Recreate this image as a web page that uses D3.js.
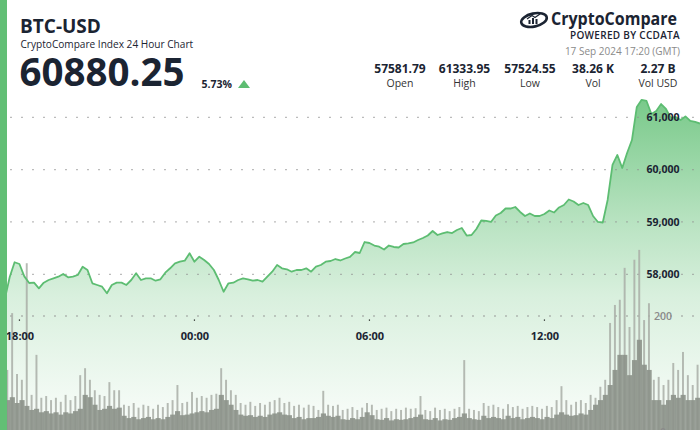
<!DOCTYPE html>
<html><head><meta charset="utf-8">
<script src="https://cdn.jsdelivr.net/npm/d3@7"></script>
<style>
html,body{margin:0;padding:0;background:#fff;}
svg{display:block;font-family:"Open Sans","Noto Sans",sans-serif;}
</style></head>
<body><svg id="c" width="700" height="430"></svg>
<script>
// ---- data ----
const startTime = "2024-09-16T17:20:00Z";
const stepMinutes = 10;
const prices = [57582,57530,57948,58230,58197,57960,57834,57840,57732,57840,
57891,57924,57954,58006,57943,57954,57987,58145,58082,57828,
57796,57763,57637,57796,57840,57840,57796,57891,58019,57891,
57924,57924,57878,57904,58031,58115,58210,58241,58260,58401,
58241,58336,58273,58197,58082,57891,57667,57828,57840,57891,
57924,57904,57878,57891,57859,57954,58050,58178,58115,58096,
58050,58082,58082,58115,58050,58145,58178,58241,58254,58292,
58264,58302,58331,58426,58407,58617,58598,58550,58527,58474,
58550,58522,58512,58579,58589,58608,58655,58694,58741,58827,
58751,58780,58808,58789,58847,58885,58741,58751,58866,59028,
59019,59000,59124,59171,59257,59257,59286,59191,59114,59162,
59114,59114,59152,59219,59181,59277,59324,59429,59391,59324,
59363,59324,59114,59000,58990,59420,60089,60280,60031,60318,
60566,61197,61334,61312,61063,61120,61254,61159,60987,61006,
60949,61016,60930,60911,60880.25];
const volDark = [55,55,60,50,55,45,38,40,34,36,32,34,30,34,32,36,40,64,60,47,
38,40,45,40,42,28,24,26,22,24,26,22,24,22,26,30,36,29,30,32,
34,36,34,38,40,64,55,47,38,30,28,29,26,28,26,30,32,34,30,29,
24,26,22,24,24,26,32,28,26,28,22,21,24,22,26,34,29,22,21,24,
20,22,21,22,24,26,30,22,21,24,20,22,21,24,26,32,24,22,21,28,
24,26,24,22,28,24,26,22,24,26,24,22,26,24,30,34,30,28,29,32,
30,38,47,55,64,81,107,133,133,98,124,159,116,107,55,55,47,55,64,59,
64,55,55,59];
const volLight = [90,107,205,100,90,291,64,133,59,62,55,59,52,64,55,62,98,110,90,72,
64,62,86,72,72,47,45,50,42,47,45,40,47,43,50,55,81,50,52,69,
59,62,59,64,66,110,90,72,64,50,47,52,45,50,47,52,55,59,50,52,
45,47,42,47,45,38,71,47,45,47,38,40,43,38,42,50,47,38,40,42,
36,40,38,42,40,41,62,38,36,42,38,40,36,40,43,124,40,38,36,50,
45,47,43,40,48,43,45,40,43,45,43,40,45,43,55,79,55,47,52,55,
50,64,59,78,90,188,219,228,283,181,297,314,193,222,90,95,81,90,119,107,
138,98,81,116];
const priceTicks = [58000,59000,60000,61000];
const volTicks = [0,200];
const timeTicks = ["2024-09-16T18:00:00Z","2024-09-17T00:00:00Z","2024-09-17T06:00:00Z","2024-09-17T12:00:00Z"];
const statValues = ["57581.79","61333.95","57524.55","38.26 K","2.27 B"];
const statLabels = ["Open","High","Low","Vol","Vol USD"];

// ---- setup ----
const W = 700, H = 430;
const svg = d3.select("#c");
const t0 = new Date(startTime);
const t1 = d3.utcMinute.offset(t0, 24*60);
const x = d3.scaleUtc().domain([t0, t1]).range([0, W]);
const y = d3.scaleLinear().domain([58000, 61000]).range([274.3, 117.3]);
const yv = d3.scaleLinear().domain([0, 200]).range([432, 316]);
const times = prices.map((p,i)=>d3.utcMinute.offset(t0, i*stepMinutes));
const priceData = prices.map((p,i)=>({t:times[i], p}));
const volData = volDark.map((v,i)=>({t:d3.utcMinute.offset(t0, i*stepMinutes), d:v, l:volLight[i]}));

const defs = svg.append("defs");
const grad = defs.append("linearGradient").attr("id","g").attr("gradientUnits","userSpaceOnUse")
  .attr("x1",0).attr("x2",0).attr("y1",95).attr("y2",430);
[[0,0.85],[0.4,0.42],[0.6,0.24],[1,0.03]].forEach(([o,a])=>
  grad.append("stop").attr("offset",o).attr("stop-color","#5fbf73").attr("stop-opacity",a));

// area
const area = d3.area().x(d=>x(d.t)).y0(H).y1(d=>y(d.p)).curve(d3.curveLinear);
svg.append("path").datum(priceData).attr("d",area).attr("fill","url(#g)");

// gridlines
const gridG = svg.append("g");
gridG.selectAll("line.p").data(priceTicks).join("line")
  .attr("x1",-0.6).attr("x2",W).attr("y1",d=>y(d)).attr("y2",d=>y(d))
  .attr("stroke","#8f8f8f").attr("stroke-width",1.3).attr("stroke-dasharray","1.2 9.8");
gridG.selectAll("line.v").data(volTicks).join("line")
  .attr("x1",-0.6).attr("x2",W).attr("y1",d=>yv(d)).attr("y2",d=>yv(d))
  .attr("stroke","#8f8f8f").attr("stroke-width",1.3).attr("stroke-dasharray","1.2 9.8");

// volume bars
const bw = x(d3.utcMinute.offset(t0, stepMinutes)) - x(t0);
svg.append("g").selectAll("rect").data(volData).join("rect")
  .attr("x",d=>x(d.t)+bw*0.3).attr("width",bw*0.4)
  .attr("y",d=>yv(d.l)).attr("height",d=>yv(0)-yv(d.l))
  .attr("fill","#a9aea7").attr("opacity",0.85);
svg.append("g").selectAll("rect").data(volData).join("rect")
  .attr("x",d=>x(d.t)).attr("width",bw+0.3)
  .attr("y",d=>yv(d.d)).attr("height",d=>yv(0)-yv(d.d))
  .attr("fill","#8c9289").attr("opacity",0.9);

// price line
const line = d3.line().x(d=>x(d.t)).y(d=>y(d.p));
svg.append("path").datum(priceData).attr("d",line).attr("fill","none")
  .attr("stroke","#5dbd72").attr("stroke-width",1.8).attr("stroke-linejoin","round");

// price labels
svg.append("g").selectAll("text").data(priceTicks).join("text")
  .attr("x",663).attr("y",d=>y(d)).attr("dy","0.36em").attr("text-anchor","middle")
  .attr("font-size",10.5).attr("font-weight",700).attr("fill","#1b2432")
  .text(d=>d3.format(",")(d));
svg.append("g").selectAll("text").data(volTicks).join("text")
  .attr("x",663).attr("y",d=>yv(d)).attr("dy","0.36em").attr("text-anchor","middle")
  .attr("font-size",10.5).attr("font-weight",600).attr("fill","#8a8a8a")
  .text(d=>d3.format(",")(d));

// time axis
const xAxis = d3.axisBottom(x).tickValues(timeTicks.map(s=>new Date(s)))
  .tickFormat(d3.utcFormat("%H:%M")).tickSize(0).tickPadding(0);
const ax = svg.append("g").attr("transform","translate(0,333)").call(xAxis);
ax.select(".domain").remove();
ax.selectAll("text").attr("font-family","Open Sans").attr("font-size",11)
  .attr("font-weight",700).attr("fill","#1b2432").attr("dy","0.71em").attr("y",-0.5);
svg.append("g").selectAll("rect").data(timeTicks).join("rect")
  .attr("x",d=>x(new Date(d))-0.6).attr("y",319.5).attr("width",1.2).attr("height",1.2).attr("fill","#111");

// left bar
svg.append("rect").attr("x",0).attr("y",0).attr("width",7).attr("height",H).attr("fill","#62bf75");

// header
const dark = "#1b2432";
svg.append("text").attr("x",20).attr("y",33).attr("font-size",19).attr("font-weight",700).attr("fill",dark).text("BTC-USD");
svg.append("text").attr("x",20.5).attr("y",47.5).attr("font-size",10.1).attr("fill",dark).text("CryptoCompare Index 24 Hour Chart");
svg.append("text").attr("x",19.5).attr("y",86).attr("font-size",38.5).attr("font-weight",700).attr("fill",dark).text("60880.25");
svg.append("text").attr("x",201.5).attr("y",88).attr("font-size",10.5).attr("font-weight",700).attr("fill",dark).text("5.73%");
svg.append("path").attr("d","M238,88 L244,80 L250,88 Z").attr("fill","#5dbd72");

// stats
const statX = [400,464.5,530,593,658];
svg.append("g").selectAll("text").data(statValues).join("text")
  .attr("x",(d,i)=>statX[i]).attr("y",72.5).attr("text-anchor","middle")
  .attr("font-size",12).attr("font-weight",700).attr("fill",dark).text(d=>d);
svg.append("g").selectAll("text").data(statLabels).join("text")
  .attr("x",(d,i)=>statX[i]).attr("y",86.5).attr("text-anchor","middle")
  .attr("font-size",10.5).attr("fill","#333").text(d=>d);

// logo
const lg = svg.append("g");
lg.append("ellipse").attr("cx",534).attr("cy",20).attr("rx",13).attr("ry",6.5)
  .attr("transform","rotate(-12 534 20)").attr("fill","none").attr("stroke",dark).attr("stroke-width",2.6);
lg.append("rect").attr("x",528.5).attr("y",20).attr("width",2).attr("height",4).attr("fill",dark);
lg.append("rect").attr("x",532).attr("y",18).attr("width",2).attr("height",6).attr("fill",dark);
lg.append("rect").attr("x",535.5).attr("y",19).attr("width",2).attr("height",5).attr("fill",dark);
lg.append("path").attr("d","M527,19 L532,15.5 L535,17.5 L540,14").attr("fill","none").attr("stroke",dark).attr("stroke-width",1.3);
svg.append("text").attr("x",677).attr("y",25).attr("text-anchor","end").attr("font-size",17).attr("font-weight",700).attr("fill",dark).attr("textLength",126).attr("lengthAdjust","spacingAndGlyphs").text("CryptoCompare");
svg.append("text").attr("x",680).attr("y",39).attr("text-anchor","end").attr("font-size",10).attr("font-weight",600).attr("fill",dark).attr("letter-spacing",0.3).text("POWERED BY CCDATA");
svg.append("text").attr("x",680).attr("y",54.5).attr("text-anchor","end").attr("font-size",10).attr("fill","#8a8a8a").text("17 Sep 2024 17:20 (GMT)");
</script></body></html>
